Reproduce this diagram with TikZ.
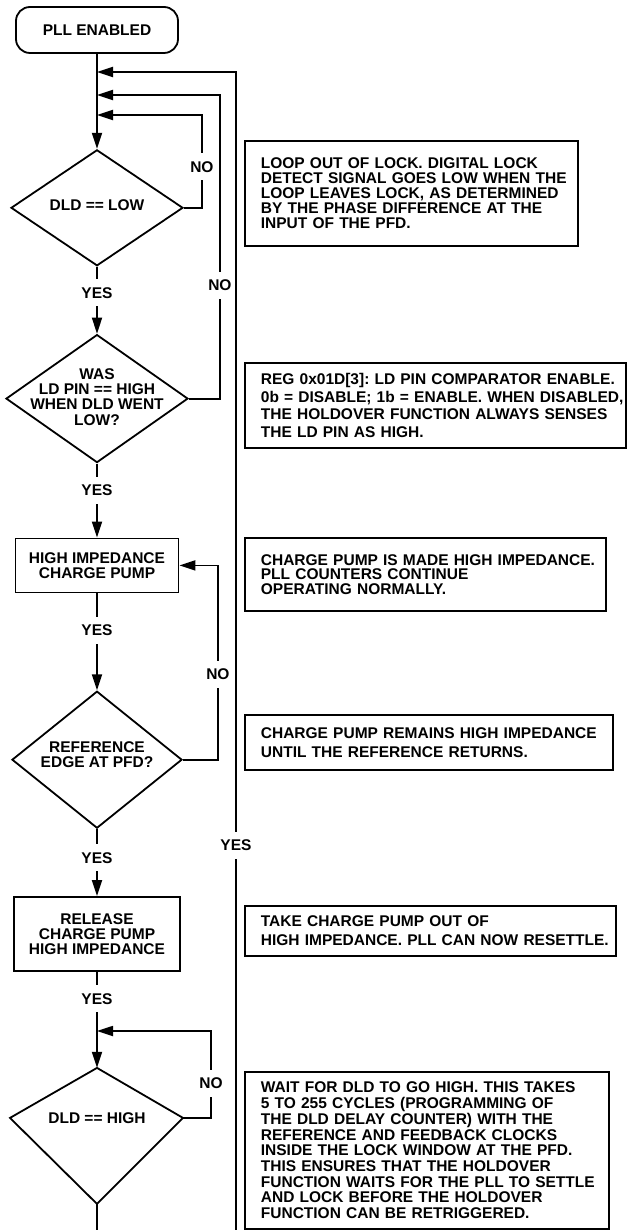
\documentclass[tikz,border=0pt]{standalone}
\usepackage{fontspec}
\setmainfont{Liberation Sans}
\usetikzlibrary{shapes.geometric,arrows.meta,positioning}

\newcommand{\figfont}[1][15]{\fontsize{15.5}{#1}\selectfont\bfseries\frenchspacing}
% diamond text that does not grow the diamond
\newcommand{\dtxt}[2][-4pt]{\makebox[0pt]{\smash{\raisebox{#1}{\begin{tabular}{@{}c@{}}#2\end{tabular}}}}}

\begin{document}
\begin{tikzpicture}[
            x=1pt, y=-1pt,
            every node/.style={font=\figfont},
            wire/.style={line width=1.8pt},
            arrow/.style={wire, -{Triangle[length=16pt,width=10pt]}},
            terminal/.style={rectangle, rounded corners=14pt, draw, wire,
                             minimum width=162pt, minimum height=46pt},
            process/.style={rectangle, draw, wire, align=center},
            decision/.style={diamond, draw, wire, inner sep=0pt},
            note/.style={rectangle, draw, wire, anchor=north west, inner sep=0pt, align=left,
                         execute at begin node={\leftskip=16pt\rightskip=0pt plus 1fil minus 12pt}},
            lbl/.style={fill=white, inner xsep=2pt, inner ysep=8pt}
        ]

        \useasboundingbox (0,0) rectangle (626,1230);

        % main flow
        \node[terminal] (start) at (97,30) {PLL ENABLED};
        \node[decision, below=95pt of start, minimum width=172pt, minimum height=116pt] (dldlow) {\dtxt[-3pt]{DLD == LOW}};
        \node[decision, below=67pt of dldlow, minimum width=182pt, minimum height=128pt] (wasld)
            {\dtxt{WAS\\LD PIN == HIGH\\WHEN DLD WENT\\LOW?}};
        \node[process, below=74pt of wasld, minimum width=163pt, minimum height=54pt] (hicp)
            {HIGH IMPEDANCE\\CHARGE PUMP};
        \node[decision, below=97pt of hicp, minimum width=170pt, minimum height=137pt] (refedge)
            {\dtxt[-1pt]{REFERENCE\\EDGE AT PFD?}};
        \node[process, below=67pt of refedge, minimum width=166pt, minimum height=74pt] (relcp)
            {RELEASE\\CHARGE PUMP\\HIGH IMPEDANCE};

        % last decision is drawn by hand
        \coordinate[below=96pt of relcp] (dht);
        \node (dldhigh) at ([yshift=-50pt]dht) {DLD == HIGH};
        \coordinate (dhl) at ([xshift=-87pt]dldhigh.center);
        \coordinate (dhr) at ([xshift=86pt]dldhigh.center);
        \coordinate (dhb) at ([yshift=-86pt]dldhigh.center);
        \draw[wire] (dht) -- (dhl) -- (dhb) -- (dhr) -- cycle;

        % join points on the main line
        \coordinate (j1) at (97,72);
        \coordinate (j2) at (97,95);
        \coordinate (j3) at (97,115);
        \coordinate (j4) at (97,1031);
        \coordinate (endA) at (97,1230);
        \coordinate (endB) at (236,1230);

        % notes
        \node[note, text width=333pt, minimum height=105pt] (n1) at (244,140)
            {LOOP OUT OF LOCK. DIGITAL LOCK\\DETECT SIGNAL GOES LOW WHEN THE\\LOOP LEAVES LOCK, AS DETERMINED\\BY THE PHASE DIFFERENCE AT THE\\INPUT OF THE PFD.};
        \node[note, text width=381pt, minimum height=85pt, font={\figfont[17.5]}] (n2) at (244,362)
            {REG 0x01D[3]: LD PIN COMPARATOR ENABLE.\\0b = DISABLE; 1b = ENABLE. WHEN DISABLED,\\THE HOLDOVER FUNCTION ALWAYS SENSES\\THE LD PIN AS HIGH.};
        \node[note, text width=361pt, minimum height=73pt, font={\figfont[14.7]}] (n3) at (244,537)
            {CHARGE PUMP IS MADE HIGH IMPEDANCE.\\PLL COUNTERS CONTINUE\\OPERATING NORMALLY.};
        \node[note, text width=368pt, minimum height=55pt, font={\figfont[19]}] (n4) at (244,714)
            {CHARGE PUMP REMAINS HIGH IMPEDANCE\\UNTIL THE REFERENCE RETURNS.};
        \node[note, text width=371pt, minimum height=50pt, font={\figfont[18.5]}] (n5) at (244,905)
            {TAKE CHARGE PUMP OUT OF\\HIGH IMPEDANCE. PLL CAN NOW RESETTLE.};
        \node[note, text width=364pt, minimum height=157pt, font={\figfont[15.7]}] (n6) at (244,1071)
            {WAIT FOR DLD TO GO HIGH. THIS TAKES\\5 TO 255 CYCLES (PROGRAMMING OF\\THE DLD DELAY COUNTER) WITH THE\\REFERENCE AND FEEDBACK CLOCKS\\INSIDE THE LOCK WINDOW AT THE PFD.\\THIS ENSURES THAT THE HOLDOVER\\FUNCTION WAITS FOR THE PLL TO SETTLE\\AND LOCK BEFORE THE HOLDOVER\\FUNCTION CAN BE RETRIGGERED.};

        % connectors
        \draw[arrow] (start) -- (dldlow);
        \draw[arrow] (dldlow) -- node[lbl, pos=0.39] {YES} (wasld);
        \draw[arrow] (wasld) -- node[lbl, pos=0.36] {YES} (hicp);
        \draw[arrow] (hicp) -- node[lbl, pos=0.38] {YES} (refedge);
        \draw[arrow] (refedge) -- node[lbl, pos=0.43] {YES} (relcp);
        \draw[arrow] (relcp) -- node[lbl, pos=0.28] {YES} (dht);
        \draw[wire] (dhb) -- (endA);

        \draw[arrow] (dldlow.east) -- ++(18,0) |- node[lbl, pos=0.22] {NO} (j3);
        \draw[arrow] (wasld.east) -- ++(31,0) |- node[lbl, pos=0.187] {NO} (j2);
        \draw[arrow] (refedge.east) -- ++(35,0) |- node[lbl, pos=0.22] {NO} (hicp.east);
        \draw[arrow] (dhr) -- ++(28,0) |- node[lbl, pos=0.2] {NO} (j4);
        \draw[arrow] (endB) |- node[lbl, pos=0.166] {YES} (j1);

        \end{tikzpicture}
\end{document}
